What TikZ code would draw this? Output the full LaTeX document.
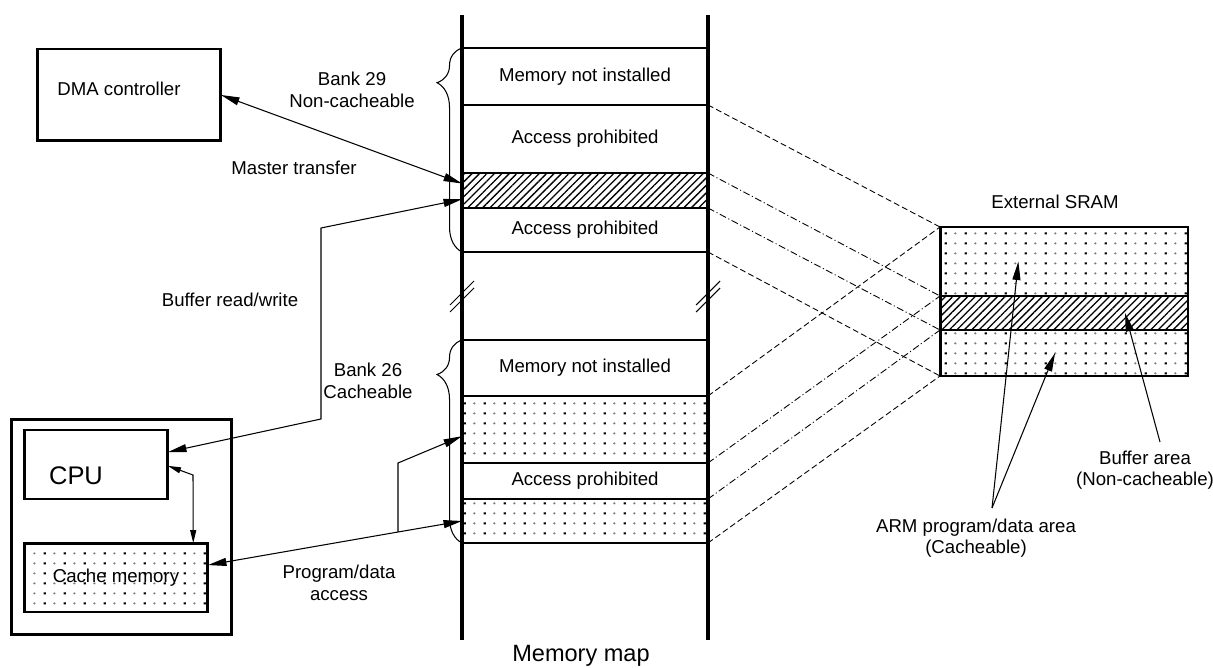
\documentclass[tikz,border=0pt]{standalone}
\usepackage{fontspec}
\setmainfont{Liberation Sans}
\usetikzlibrary{arrows.meta,calc,decorations.pathreplacing,patterns.meta}

\newcommand{\txtfont}{\fontsize{10.6}{12.2}\selectfont}
\newcommand{\cpufont}{\fontsize{14.5}{17}\selectfont}
\newcommand{\mapfont}{\fontsize{13.4}{16}\selectfont}

% dot fill of the cacheable areas
\pgfdeclarepattern{
  name=memdots,
  type=colored,
  bottom left={\pgfpoint{0pt}{0pt}},
  top right={\pgfpoint{11.4pt}{5.7pt}},
  tile size={\pgfpoint{11.4pt}{5.7pt}},
  code={
    \pgfpathrectangle{\pgfpoint{2.2pt}{2.2pt}}{\pgfpoint{1.3pt}{1.3pt}}
    \pgfsetfillcolor{black}\pgfusepath{fill}
    \pgfpathcircle{\pgfpoint{8.55pt}{2.85pt}}{0.75pt}
    \pgfsetfillcolor{gray}\pgfusepath{fill}
  }
}

\begin{document}
\begin{tikzpicture}[
    x=0.02cm, y=-0.02cm,
    font=\txtfont,
    region/.style={rectangle, draw, line width=0.6pt, minimum width=4.92cm, inner sep=0pt, outer sep=0pt},
    hatchregion/.style={region, pattern={Lines[angle=45, distance=3pt, line width=0.75pt]}},
    dotregion/.style={region, pattern=memdots},
    box/.style={rectangle, draw, line width=1.7pt, inner sep=0pt, outer sep=0pt},
    wall/.style={line width=1.9pt},
    sep/.style={line width=1.4pt},
    arrow/.style={->, >={Triangle[length=3.7mm, width=1.6mm]}, line width=0.6pt},
    smallway/.style={<->, >={Triangle[length=2.6mm, width=1.2mm]}, line width=0.6pt},
    proj/.style={line width=0.5pt, dash pattern=on 3.4pt off 1.8pt},
    projdot/.style={line width=0.5pt, dash pattern=on 4pt off 1.5pt on 0.6pt off 1.5pt},
    bank/.style={decorate, decoration={brace, amplitude=0.5cm, aspect=0.83}, line width=0.6pt}
]
\useasboundingbox (0,0) rectangle (1213,668);

% memory map, bank 29
\node[region, minimum height=1.14cm] (r29a) at (585,76.5) {Memory not installed};
\node[region, minimum height=1.36cm] (r29b) at (585,139) {Access prohibited};
\node[hatchregion, minimum height=0.70cm] (r29c) at (585,190.5) {};
\node[region, minimum height=0.88cm] (r29d) at (585,230) {Access prohibited};
% memory map, bank 26
\node[region, minimum height=1.12cm] (r26a) at (585,368) {Memory not installed};
\node[dotregion, minimum height=1.34cm] (r26b) at (585,429.5) {};
\node[region, minimum height=0.72cm] (r26c) at (585,481) {Access prohibited};
\node[dotregion, minimum height=0.88cm] (r26d) at (585,521) {};

\draw[sep] (r29a.south west) -- (r29a.south east);
\draw[sep] (r29d.south west) -- (r29d.south east);
\draw[sep] (r26a.south west) -- (r26a.south east);
\draw[sep] (r26d.south west) -- (r26d.south east);

\draw[wall] (462,15) -- (462,640);
\draw[wall] (708,15) -- (708,640);
\draw[line width=0.6pt] (450,312) -- (474,288) (450,305) -- (474,281);
\draw[line width=0.6pt] (696,312) -- (720,288) (696,305) -- (720,281);

\draw[bank] (r29d.south west) -- (r29a.north west);
\draw[bank] (r26d.south west) -- (r26a.north west);
\node[align=center] (bank29) at (352,90) {Bank 29\\Non-cacheable};
\node[align=center] (bank26) at (368,381) {Bank 26\\Cacheable};

% masters
\node[box, minimum width=3.68cm, minimum height=1.84cm, label={[xshift=-0.2cm, yshift=0.12cm]center:DMA controller}] (dma) at (129,95) {};
\node[box, minimum width=4.42cm, minimum height=4.32cm] (chip) at (121.5,527) {};
\node[box, minimum width=2.88cm, minimum height=1.38cm, label={[font=\cpufont, xshift=-0.4cm, yshift=-0.22cm]center:CPU}] (cpu) at (96,464.5) {};
\node[box, pattern=memdots, minimum width=3.68cm, minimum height=1.38cm] (cache) at (116,577.5) {Cache memory};

% external SRAM
\node[dotregion, minimum width=4.96cm, minimum height=1.38cm] (sramA) at (1064,261.5) {};
\node[hatchregion, minimum width=4.96cm, minimum height=0.68cm] (sramB) at (1064,313) {};
\node[dotregion, minimum width=4.96cm, minimum height=0.92cm] (sramC) at (1064,353) {};
\draw[line width=1.7pt] (sramA.north west) rectangle (sramC.south east);
\node (sramlbl) at (1055,202) {External SRAM};

% mapping onto the SRAM
\draw[proj] (r29a.south east) -- (sramA.north west);
\draw[projdot] (r29c.north east) -- (sramB.north west);
\draw[projdot] (r29c.south east) -- (sramB.south west);
\draw[proj] (r29d.south east) -- (sramC.south west);
\draw[proj] (r26a.south east) -- (sramA.north west);
\draw[projdot] (r26b.south east) -- (sramB.north west);
\draw[projdot] (r26c.south east) -- (sramB.south west);
\draw[proj] (r26d.south east) -- (sramC.south west);

% accesses
\coordinate (buf1) at (321,228);
\coordinate (buf2) at (321,419);
\coordinate (cc) at (193,475);
\coordinate (pdsplit) at (398,532);
\coordinate (pdbend) at (398,463);
\coordinate (armpt) at (992,508);
\coordinate (bufpt) at (1160,442);

\draw[arrow, <->] (dma.east) -- ($(r29c.north west)!0.3!(r29c.south west)$);
\draw[arrow, <->] ($(cpu.north east)!0.32!(cpu.south east)$) -- (buf2) -- (buf1) -- ($(r29c.north west)!0.75!(r29c.south west)$);
\draw[smallway] ($(cpu.north east)!0.52!(cpu.south east)$) -- (cc) -- ($(cache.north west)!0.92!(cache.north east)$);
\draw[arrow, <->] ($(cache.north east)!0.32!(cache.south east)$) -- (pdsplit) -- (r26d.west);
\draw[arrow] (pdsplit) -- (pdbend) -- ($(r26b.north west)!0.6!(r26b.south west)$);
\draw[arrow] (armpt) -- ($(sramA.west)!0.316!(sramA.east)$);
\draw[arrow] (armpt) -- ($(sramC.west)!0.464!(sramC.east)$);
\draw[arrow] (bufpt) -- ($(sramB.west)!0.746!(sramB.east)$);

\node (master) at (294,168) {Master transfer};
\node (bufrw) at (230,300) {Buffer read/write};
\node[align=center] (pdacc) at (339,583) {Program/data\\access};
\node[align=center] (armlbl) at (976,538) {ARM program/data area\\(Cacheable)};
\node[align=center] (buflbl) at (1145,470) {Buffer area\\(Non-cacheable)};
\node[font=\mapfont] (maplbl) at (581,656) {Memory map};
\end{tikzpicture}
\end{document}
